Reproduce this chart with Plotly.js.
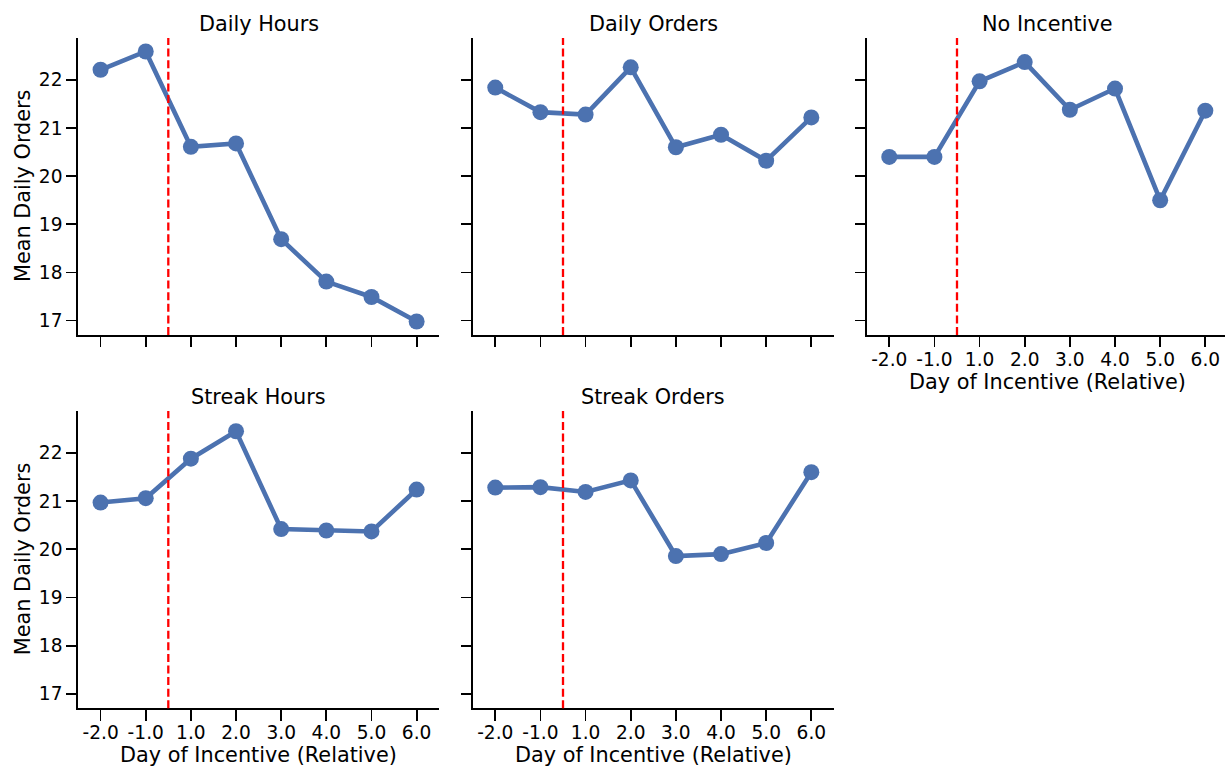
<!DOCTYPE html>
<html>
<head>
<meta charset="utf-8">
<script src="https://cdn.plot.ly/plotly-3.0.1.min.js"></script>
<style>html,body{margin:0;padding:0;background:#fff;}#chart{width:1225px;height:766px;}</style>
</head>
<body>
<div id="chart"></div>
<script>
// Data
const categories = ["-2.0", "-1.0", "1.0", "2.0", "3.0", "4.0", "5.0", "6.0"];
const panelTitles = ["Daily Hours", "Daily Orders", "No Incentive", "Streak Hours", "Streak Orders"];
const dailyHours   = [22.21, 22.59, 20.61, 20.68, 18.69, 17.81, 17.49, 16.98];
const dailyOrders  = [21.84, 21.33, 21.28, 22.26, 20.60, 20.86, 20.32, 21.22];
const noIncentive  = [20.40, 20.40, 21.97, 22.37, 21.38, 21.82, 19.50, 21.36];
const streakHours  = [20.97, 21.06, 21.88, 22.45, 20.42, 20.39, 20.37, 21.24];
const streakOrders = [21.28, 21.29, 21.19, 21.43, 19.86, 19.90, 20.13, 21.60];
const yTicks = [17, 18, 19, 20, 21, 22];
const incentiveStart = 1.5; // between "-1.0" and "1.0"

const series = [dailyHours, dailyOrders, noIncentive, streakHours, streakOrders];

const W = 1225, H = 766;
const FONT = "DejaVu Sans, sans-serif";
const BLUE = "#4c72b0";
const TICKSIZE = 18.6, LABELSIZE = 20.8;

// panel geometry (px)
const colLeft = [78, 472.7, 866.7];
const pxPerCat = 45.15;
const rowTop = [38, 411];
const rowBottom = [335, 708.3];

const traces = [];
const layout = {
  width: W, height: H,
  margin: {l: 0, r: 0, t: 0, b: 0},
  paper_bgcolor: "#fff", plot_bgcolor: "#fff",
  showlegend: false,
  font: {family: FONT, color: "#000"},
  shapes: [], annotations: []
};

const positions = [[0,0],[0,1],[0,2],[1,0],[1,1]];
positions.forEach(([r, c], i) => {
  const n = i + 1;
  const xa = "xaxis" + (n === 1 ? "" : n), ya = "yaxis" + (n === 1 ? "" : n);
  const xr = "x" + (n === 1 ? "" : n), yr = "y" + (n === 1 ? "" : n);
  const left = colLeft[c];
  let right = left + 8 * pxPerCat;
  let rmax = 7.5;
  if (right > W) { rmax = -0.5 + (W - left) / pxPerCat; right = W; }
  const showXLabels = (r === 1) || (c === 2);
  const showYLabels = (c === 0);
  layout[xa] = {
    domain: [left / W, right / W],
    anchor: yr,
    type: "category",
    range: [-0.5, rmax],
    showgrid: false, zeroline: false,
    showline: true, linecolor: "#000", linewidth: 1.8,
    ticks: "outside", ticklen: 10.5, tickwidth: 1.8, tickcolor: "#000",
    showticklabels: showXLabels,
    ticklabelstandoff: -4,
    tickfont: {family: FONT, size: TICKSIZE, color: "#000"},
    fixedrange: true
  };
  layout[ya] = {
    domain: [1 - rowBottom[r] / H, 1 - rowTop[r] / H],
    anchor: xr,
    range: [16.70, 22.87],
    tickvals: yTicks,
    showgrid: false, zeroline: false,
    showline: true, linecolor: "#000", linewidth: 1.8,
    ticks: "outside", ticklen: 10, tickwidth: 1.8, tickcolor: "#000",
    showticklabels: showYLabels,
    tickfont: {family: FONT, size: TICKSIZE, color: "#000"},
    fixedrange: true
  };
  traces.push({
    type: "scatter", mode: "lines+markers",
    x: categories, y: series[i],
    xaxis: xr, yaxis: yr,
    line: {color: BLUE, width: 4.6},
    marker: {color: BLUE, size: 16},
    hoverinfo: "skip", cliponaxis: false
  });
  layout.shapes.push({
    type: "line", xref: xr, yref: yr + " domain",
    x0: incentiveStart, x1: incentiveStart, y0: 0, y1: 1,
    line: {color: "#ff0000", width: 2.3, dash: "8px,3.6px"},
    layer: "above"
  });
  // panel title
  layout.annotations.push({
    text: panelTitles[i], xref: "paper", yref: "paper",
    x: (left + left + 8 * pxPerCat) / 2 / W, y: 1 - (rowTop[r] - 14) / H,
    xanchor: "center", yanchor: "middle", showarrow: false,
    font: {family: FONT, size: LABELSIZE, color: "#000"}
  });
  if (showXLabels) {
    layout.annotations.push({
      text: "Day of Incentive (Relative)", xref: "paper", yref: "paper",
      x: (left + left + 8 * pxPerCat) / 2 / W, y: 1 - (rowBottom[r] + 47) / H,
      xanchor: "center", yanchor: "middle", showarrow: false,
      font: {family: FONT, size: LABELSIZE, color: "#000"}
    });
  }
  if (showYLabels) {
    layout.annotations.push({
      text: "Mean Daily Orders", xref: "paper", yref: "paper",
      x: 22.5 / W, y: 1 - (rowTop[r] + rowBottom[r]) / 2 / H,
      xanchor: "center", yanchor: "middle", showarrow: false, textangle: -90,
      font: {family: FONT, size: LABELSIZE, color: "#000"}
    });
  }
});

Plotly.newPlot("chart", traces, layout, {displayModeBar: false, staticPlot: true});
</script>
</body>
</html>
